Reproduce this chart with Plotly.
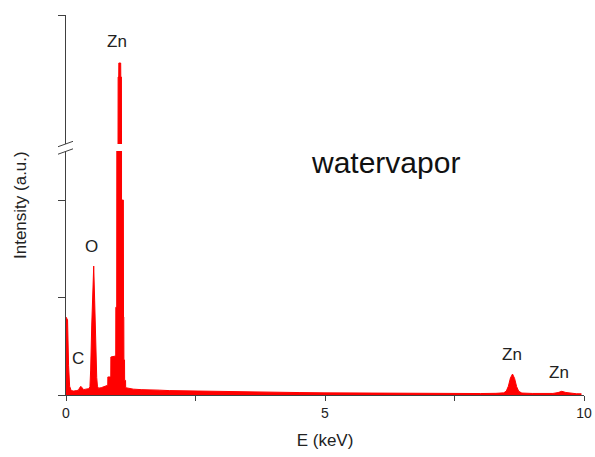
import plotly.graph_objects as go

# EDS spectrum (energy in keV, counts)
energy_kev = [
    0.000, 0.030, 0.050, 0.070, 0.100, 0.150, 0.200, 0.240, 0.270, 0.290, 0.310, 0.340, 0.380, 0.440,
    0.462, 0.476, 0.497, 0.519, 0.535, 0.553, 0.572, 0.593, 0.607, 0.626,
    0.680, 0.740, 0.790,
    0.806, 0.808, 0.864, 0.866, 0.960, 0.962, 0.979, 0.981, 1.004, 1.006, 1.018, 1.020,
    1.056, 1.058, 1.070, 1.072, 1.108, 1.110, 1.116, 1.118, 1.130, 1.132, 1.150, 1.152,
    1.20, 1.30, 1.45, 1.60, 1.80, 2.00, 2.30, 2.60, 3.00, 3.50, 4.00, 4.50, 5.00,
    5.50, 6.00, 6.50, 7.00, 7.50, 8.00, 8.30,
    8.45, 8.50, 8.54, 8.58, 8.62, 8.66, 8.70, 8.74, 8.80,
    9.00, 9.20, 9.40, 9.50, 9.57, 9.65, 9.75, 9.85, 9.95,
]
counts = [
    800, 770, 300, 90, 45, 40, 45, 50, 80, 88, 75, 55, 60, 65,
    85, 256, 718, 1210, 1323, 974, 460, 180, 90, 70,
    75, 85, 100,
    100, 185, 185, 390, 400, 900, 900, 2600, 2600, 9750, 9750, 11160,
    11160, 9750, 9750, 2000, 2000, 800, 800, 360, 360, 150, 150, 75,
    70, 60, 55, 55, 50, 45, 42, 38, 35, 30, 28, 25, 22,
    20, 18, 17, 16, 15, 15, 17,
    22, 40, 90, 175, 215, 170, 85, 38, 20,
    16, 15, 16, 25, 38, 26, 16, 13, 12,
]

# peak labels: text, energy, counts, axis
label_text = ["Zn", "O", "C", "Zn", "Zn"]
label_kev = [0.99, 0.495, 0.225, 8.61, 9.52]
label_counts = [13280, 1520, 370, 420, 226]
label_axis = ["y2", "y", "y", "y", "y"]

x_tickvals = [0, 2.5, 5, 7.5, 10]
x_ticktext = ["0", "", "5", "", "10"]

RED = "#FF0000"
AXIS = "#404040"
FONT = "Arial, Liberation Sans, sans-serif"

fig = go.Figure()
for xa, ya in (("x", "y"), ("x2", "y2")):
    fig.add_trace(go.Scatter(
        x=energy_kev, y=counts, mode="lines", fill="tozeroy",
        line=dict(color=RED, width=1), fillcolor=RED,
        xaxis=xa, yaxis=ya, hoverinfo="skip", showlegend=False,
    ))

low_dom = [0, 0.642]
up_dom = [0.6605, 1]

fig.update_layout(
    width=595, height=457,
    margin=dict(l=66, r=11, t=15, b=62, autoexpand=False),
    paper_bgcolor="white", plot_bgcolor="white",
    font=dict(family=FONT, color="#222222"),
    xaxis=dict(
        domain=[0, 1], range=[0, 10], anchor="y", automargin=False,
        tickvals=x_tickvals, ticktext=x_ticktext,
        ticks="outside", ticklen=5, tickcolor=AXIS, tickwidth=1,
        showline=True, linecolor=AXIS, linewidth=1,
        showgrid=False, zeroline=False,
        tickfont=dict(size=14, color="#222222"),
        title=dict(text="E (keV)", font=dict(size=17, color="#222222"), standoff=14),
    ),
    xaxis2=dict(
        domain=[0, 1], range=[0, 10], anchor="y2", matches="x",
        visible=False,
    ),
    yaxis=dict(
        domain=low_dom, range=[0, 2503], anchor="x", automargin=False,
        tickvals=[0, 1000, 2000], showticklabels=False,
        ticks="outside", ticklen=7, tickcolor=AXIS,
        showline=True, linecolor=AXIS, linewidth=1,
        showgrid=False, zeroline=False,
    ),
    yaxis2=dict(
        domain=up_dom, range=[3000, 16000], anchor="x2", automargin=False,
        tickvals=[16000], showticklabels=False,
        ticks="outside", ticklen=7, tickcolor=AXIS,
        showline=True, linecolor=AXIS, linewidth=1,
        showgrid=False, zeroline=False,
    ),
)

# axis break marks
mid = (low_dom[1] + up_dom[0]) / 2
for dy in (3.5, -4.0):
    fig.add_shape(
        type="line", xref="paper", yref="paper",
        xsizemode="pixel", ysizemode="pixel",
        xanchor=0, yanchor=mid,
        x0=-8, x1=7, y0=dy - 2.7, y1=dy + 2.7,
        line=dict(color=AXIS, width=1),
    )

for t, xv, yv, ya in zip(label_text, label_kev, label_counts, label_axis):
    fig.add_annotation(
        x=xv, y=yv, xref="x", yref=ya, text=t, showarrow=False,
        font=dict(size=17, color="#222222"), xanchor="center", yanchor="middle",
    )

fig.add_annotation(
    x=0.617, y=0.612, xref="paper", yref="paper", text="watervapor",
    showarrow=False, font=dict(size=30, color="#111111"),
    xanchor="center", yanchor="middle",
)

fig.add_annotation(
    x=0, y=0.5, xref="paper", yref="paper", text="Intensity (a.u.)",
    textangle=-90, showarrow=False, xshift=-46,
    font=dict(size=17, color="#222222"), xanchor="center", yanchor="middle",
)

fig.write_html("out.html")
